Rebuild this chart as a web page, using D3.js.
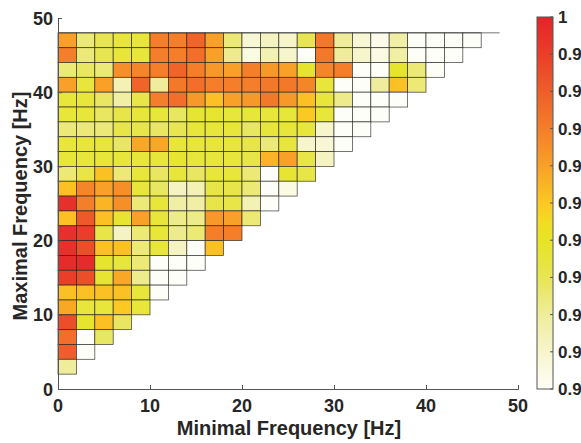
<!DOCTYPE html>
<html>
<head>
<meta charset="utf-8">
<script src="https://cdn.jsdelivr.net/npm/d3@7"></script>
<style>
  body { margin: 0; background: #fff; overflow: hidden; }
  text { font-family: "Liberation Sans", Arial, sans-serif; font-weight: bold; fill: #262626; }
</style>
</head>
<body>
<svg id="svg" width="581" height="443"></svg>
<script>
// lower edge of each min-frequency bin (columns)
const minFreqBins = [0, 2, 4, 6, 8, 10, 12, 14, 16, 18, 20, 22, 24, 26, 28, 30, 32, 34, 36, 38, 40, 42, 44, 46];
// lower edge of each max-frequency bin (rows, top to bottom)
const maxFreqBins = [46, 44, 42, 40, 38, 36, 34, 32, 30, 28, 26, 24, 22, 20, 18, 16, 14, 12, 10, 8, 6, 4, 2];

// values per row, same order as maxFreqBins
const values = [
  [0.96, 0.925, 0.93, 0.935, 0.935, 0.97, 0.97, 0.978, 0.96, 0.925, 0.908, 0.912, 0.91, 0.93, 0.972, 0.92, 0.908, 0.903, 0.918, 0.9, 0.9, 0.9, 0.9],
  [0.97, 0.925, 0.93, 0.935, 0.935, 0.97, 0.97, 0.975, 0.96, 0.922, 0.905, 0.915, 0.91, 0.9, 0.972, 0.92, 0.91, 0.905, 0.918, 0.9, 0.9, 0.9],
  [0.925, 0.928, 0.925, 0.965, 0.968, 0.97, 0.978, 0.97, 0.962, 0.96, 0.97, 0.962, 0.96, 0.938, 0.968, 0.97, 0.9, 0.9, 0.938, 0.925, 0.9],
  [0.96, 0.935, 0.96, 0.915, 0.978, 0.92, 0.972, 0.975, 0.97, 0.97, 0.97, 0.972, 0.972, 0.968, 0.935, 0.9, 0.9, 0.92, 0.952, 0.925],
  [0.935, 0.935, 0.928, 0.918, 0.932, 0.97, 0.975, 0.962, 0.952, 0.96, 0.962, 0.972, 0.962, 0.952, 0.935, 0.922, 0.9, 0.9, 0.9],
  [0.935, 0.935, 0.928, 0.932, 0.935, 0.935, 0.928, 0.937, 0.937, 0.935, 0.935, 0.935, 0.935, 0.95, 0.935, 0.9, 0.9, 0.9],
  [0.925, 0.925, 0.925, 0.932, 0.932, 0.928, 0.93, 0.935, 0.935, 0.935, 0.928, 0.935, 0.935, 0.935, 0.91, 0.9, 0.9],
  [0.935, 0.935, 0.935, 0.928, 0.958, 0.958, 0.935, 0.935, 0.935, 0.935, 0.932, 0.925, 0.935, 0.91, 0.908, 0.9],
  [0.935, 0.935, 0.935, 0.935, 0.935, 0.935, 0.937, 0.935, 0.935, 0.935, 0.932, 0.955, 0.96, 0.932, 0.912],
  [0.925, 0.932, 0.952, 0.925, 0.935, 0.928, 0.935, 0.928, 0.935, 0.935, 0.925, 0.9, 0.937, 0.932],
  [0.952, 0.968, 0.96, 0.965, 0.935, 0.928, 0.912, 0.915, 0.932, 0.932, 0.925, 0.9, 0.905],
  [0.995, 0.97, 0.955, 0.965, 0.925, 0.935, 0.918, 0.918, 0.932, 0.932, 0.915, 0.9],
  [0.952, 0.982, 0.952, 0.937, 0.96, 0.935, 0.922, 0.922, 0.962, 0.96, 0.925],
  [0.995, 0.99, 0.932, 0.912, 0.925, 0.935, 0.922, 0.925, 0.97, 0.97],
  [0.995, 0.985, 0.952, 0.952, 0.925, 0.935, 0.912, 0.9, 0.952],
  [0.997, 0.997, 0.938, 0.935, 0.925, 0.9, 0.9, 0.9],
  [0.99, 0.985, 0.937, 0.958, 0.922, 0.9, 0.9],
  [0.952, 0.952, 0.952, 0.952, 0.935, 0.9],
  [0.958, 0.935, 0.935, 0.95, 0.935],
  [0.985, 0.938, 0.952, 0.928],
  [0.975, 0.9, 0.928],
  [0.98, 0.9],
  [0.92]
];

const axisTicks = [0, 10, 20, 30, 40, 50];
const colorTicks = [1, 0.99, 0.98, 0.97, 0.96, 0.95, 0.94, 0.93, 0.92, 0.91, 0.9];
// only the visible part of the colorbar labels fits in the window
const colorTickLabels = ["1", "0.9", "0.9", "0.9", "0.9", "0.9", "0.9", "0.9", "0.9", "0.9", "0.9"];

// colormap stops (white -> yellow -> orange -> red)
const cmapValues = [0.9, 0.91, 0.92, 0.93, 0.94, 0.945, 0.95, 0.96, 0.97, 0.98, 0.99, 1.0];
const cmapColors = ["#fefef8", "#f7f5cc", "#efed9c", "#e8e552", "#e7e424", "#f2dc22", "#fcc823", "#f8a027", "#f47e2a", "#ef5e2a", "#ea3e29", "#e6222a"];

const svg = d3.select("#svg");
const binW = 2;

const x = d3.scaleLinear().domain([0, 50]).range([58, 518]);
const y = d3.scaleLinear().domain([0, 50]).range([389, 18]);
const color = d3.scaleLinear().domain(cmapValues).range(cmapColors).clamp(true);

//セルを描画する
const cells = [];
values.forEach((row, r) => {
  row.forEach((v, c) => {
    cells.push({ minF: minFreqBins[c], maxF: maxFreqBins[r], v: v });
  });
});

svg.append("g")
  .selectAll("rect")
  .data(cells)
  .join("rect")
  .attr("x", (d) => x(d.minF))
  .attr("y", (d) => y(d.maxF + binW))
  .attr("width", x(binW) - x(0))
  .attr("height", y(0) - y(binW))
  .attr("fill", (d) => color(d.v))
  .attr("stroke", "#1a1a1a")
  .attr("stroke-opacity", 0.75)
  .attr("stroke-width", 0.8);

// top edge of the grid
svg.append("line")
  .attr("x1", x(0))
  .attr("x2", x(48))
  .attr("y1", y(48))
  .attr("y2", y(48))
  .attr("stroke", "#1a1a1a")
  .attr("stroke-opacity", 0.75)
  .attr("stroke-width", 0.8);

//軸
const xAxis = svg.append("g")
  .attr("transform", `translate(0,${y(0)})`)
  .call(d3.axisTop(x).tickValues(axisTicks).tickSize(4).tickFormat(""));
const yAxis = svg.append("g")
  .attr("transform", `translate(${x(0)},0)`)
  .call(d3.axisRight(y).tickValues(axisTicks).tickSize(4).tickFormat(""));
[xAxis, yAxis].forEach((g) => {
  g.select(".domain").attr("stroke", "#555").attr("stroke-width", 1);
  g.selectAll(".tick line").attr("stroke", "#555");
});

svg.append("g")
  .selectAll("text")
  .data(axisTicks)
  .join("text")
  .attr("x", (d) => x(d))
  .attr("y", 412)
  .attr("text-anchor", "middle")
  .attr("font-size", 18)
  .text((d) => d);

svg.append("g")
  .selectAll("text")
  .data(axisTicks)
  .join("text")
  .attr("x", 53)
  .attr("y", (d) => y(d) + 6.5)
  .attr("text-anchor", "end")
  .attr("font-size", 18)
  .text((d) => d);

svg.append("text")
  .attr("x", 289)
  .attr("y", 435)
  .attr("text-anchor", "middle")
  .attr("font-size", 20)
  .text("Minimal Frequency [Hz]");

svg.append("text")
  .attr("transform", `translate(27,206) rotate(-90)`)
  .attr("text-anchor", "middle")
  .attr("font-size", 20)
  .text("Maximal Frequency [Hz]");

//カラーバー
const cb = d3.scaleLinear().domain([0.9, 1]).range([389, 17]);
const grad = svg.append("defs")
  .append("linearGradient")
  .attr("id", "cbar")
  .attr("x1", 0).attr("x2", 0).attr("y1", 1).attr("y2", 0);
grad.selectAll("stop")
  .data(cmapValues)
  .join("stop")
  .attr("offset", (d) => (d - 0.9) / 0.1)
  .attr("stop-color", (d, i) => cmapColors[i]);

svg.append("rect")
  .attr("x", 537)
  .attr("y", cb(1))
  .attr("width", 16)
  .attr("height", cb(0.9) - cb(1))
  .attr("fill", "url(#cbar)")
  .attr("stroke", "#555")
  .attr("stroke-width", 1);

svg.append("g")
  .selectAll("line")
  .data(colorTicks)
  .join("line")
  .attr("x1", 553)
  .attr("x2", 550)
  .attr("y1", (d) => cb(d))
  .attr("y2", (d) => cb(d))
  .attr("stroke", "#555");

svg.append("g")
  .selectAll("text")
  .data(colorTicks)
  .join("text")
  .attr("x", 558)
  .attr("y", (d) => cb(d) + 6)
  .attr("font-size", 17)
  .text((d, i) => colorTickLabels[i]);
</script>
</body>
</html>
